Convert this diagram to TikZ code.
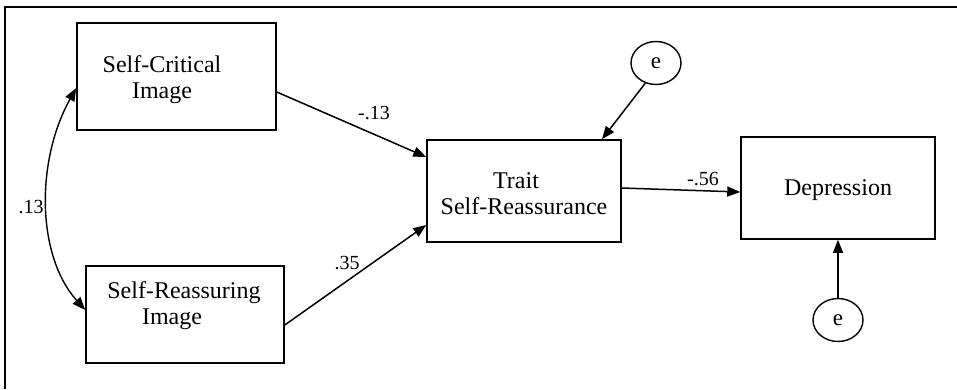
\documentclass[tikz,border=0pt]{standalone}
\usepackage{fontspec}
\setmainfont{Liberation Serif}
\usetikzlibrary{arrows.meta,shapes.geometric}

\tikzset{
  box/.style={draw, line width=1.5pt, rectangle, inner sep=0pt},
  errvar/.style={draw, line width=1.4pt, ellipse, inner sep=0pt,
    minimum width=50pt, minimum height=43pt,
    font=\fontsize{23}{24}\selectfont},
  boxtext/.style={align=center, inner sep=0pt,
    font=\fontsize{24}{26}\selectfont},
  coef/.style={inner sep=0pt, font=\fontsize{20}{22}\selectfont},
  path/.style={line width=1.5pt, -{Triangle[length=13pt,width=10pt]}},
  covpath/.style={line width=1.4pt,
    {Triangle[length=13pt,width=10pt]}-{Triangle[length=13pt,width=10pt]}}
}

\begin{document}
\begin{tikzpicture}[x=1pt,y=-1pt]
\useasboundingbox (0,0) rectangle (957,389);

% open frame: top and left edges only
\draw[line width=1.6pt] (957,7) -- (5,7) -- (5,389);

% observed variables
\node[box, minimum width=199pt, minimum height=107pt] (sc)  at (176.5,76.5) {};
\node[box, minimum width=198pt, minimum height=97pt]  (sr)  at (185,314.5) {};
\node[box, minimum width=194pt, minimum height=102pt] (tsr) at (524,191) {};
\node[box, minimum width=194pt, minimum height=102pt] (dep) at (838,188) {};

\node[boxtext] (scl)  at (162,80)  {Self-Critical\\Image};
\node[boxtext] (srl)  at (184,306) {Self-Reassuring\\Image\hspace*{24pt}};
\node[boxtext] (tsrl) at (524,194) {Trait\hspace*{16pt}\\Self-Reassurance};
\node[boxtext] (depl) at (838,190) {Depression};

% error terms
\node[errvar] (e1) at (656,63)  {e};
\node[errvar] (e2) at (838,320) {e};

% structural paths
\draw[path] ([yshift=-15.5pt]sc.east) -- ([yshift=34pt]tsr.west);
\draw[path] ([yshift=-10.5pt]sr.east) -- ([yshift=-34pt]tsr.west);
\draw[path] ([yshift=3pt]tsr.east) -- ([yshift=-4pt]dep.west);
\draw[path] (e1.242) -- ([xshift=78pt]tsr.north);
\draw[path] (e2.north) -- (dep.south);

% covariance between the two images
\draw[covpath] ([yshift=-11.5pt]sc.west) .. controls (36,160) and (36,255) .. ([yshift=4.5pt]sr.west);

% path coefficients
\node[coef] (c1) at (374,113) {-.13};
\node[coef] (c2) at (347,263) {.35};
\node[coef] (c3) at (703,179) {-.56};
\node[coef] (c4) at (31,207)  {.13};
\end{tikzpicture}
\end{document}
